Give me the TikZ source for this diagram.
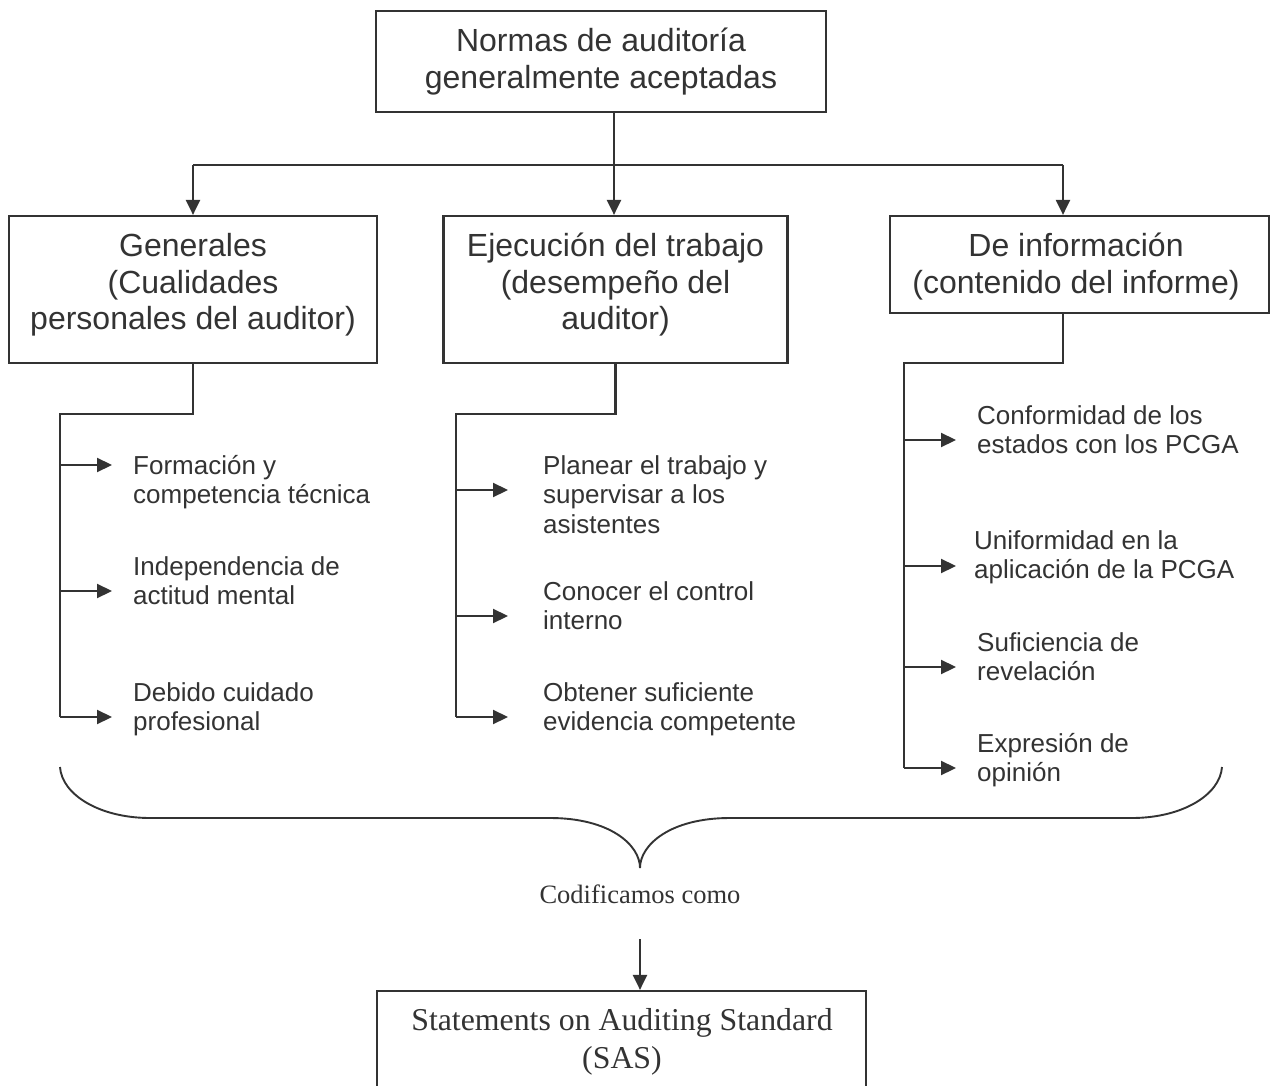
\documentclass[tikz,border=0pt]{standalone}
\usepackage{fontspec}
\setmainfont{Liberation Sans}
\newfontfamily\serifface{Liberation Serif}
\usetikzlibrary{arrows.meta}
\definecolor{ink}{RGB}{51,51,51}
% stacked lines with the baseline of the first line as reference
\newcommand\leftlines[1]{\begin{tabular}[t]{@{}l@{}}#1\end{tabular}}
\newcommand\midlines[1]{\begin{tabular}[t]{@{}c@{}}#1\end{tabular}}

\begin{document}
\begin{tikzpicture}[x=1pt,y=-1pt,
  frame/.style={draw=ink, line width=2.2pt, inner sep=0pt},
  boxtext/.style={inner sep=0pt, anchor=base, text=ink, font=\fontsize{32}{36.5}\selectfont},
  itemtext/.style={inner sep=0pt, anchor=base west, text=ink, font=\fontsize{26}{29.5}\selectfont},
  serifsmall/.style={inner sep=0pt, anchor=base, text=ink, font=\serifface\fontsize{26.5}{30}\selectfont},
  serifbig/.style={inner sep=0pt, anchor=base, text=ink, font=\serifface\fontsize{31.8}{38}\selectfont},
  link/.style={draw=ink, line width=2.2pt},
  arr/.style={link, -{Triangle[length=15pt,width=14pt]}},
]
\useasboundingbox (0,0) rectangle (1275,1086);
\fill[white] (0,0) rectangle (1275,1086);
\clip (0,0) rectangle (1275,1086);

% main boxes
\node[frame, minimum width=450pt, minimum height=101pt] (top) at (601,61.5) {};
\node[frame, minimum width=368pt, minimum height=147pt] (gen) at (193,289.5) {};
\node[frame, minimum width=344pt, minimum height=147pt] (ejec) at (615.5,289.5) {};
\node[frame, minimum width=379pt, minimum height=97pt] (info) at (1079.5,264.5) {};
\node[frame, minimum width=489pt, minimum height=140pt] (sas) at (621.5,1061) {};

% box labels
\node[boxtext] (toptext) at (601,52) {\midlines{Normas de auditoría\\generalmente aceptadas}};
\node[boxtext] (gentext) at (193,257) {\midlines{Generales\\(Cualidades\\personales del auditor)}};
\node[boxtext] (ejectext) at (615.5,257) {\midlines{Ejecución del trabajo\\(desempeño del\\auditor)}};
\node[boxtext] (infotext) at (1076,257) {\midlines{De información\\(contenido del informe)}};
\node[serifbig] (sastext) at (622,1030) {\midlines{Statements on Auditing Standard\\(SAS)}};

% split from the top box into the three groups
\coordinate (bar) at (614,165);
\coordinate (infoin) at (1063,165);
\draw[link] (top.south -| bar) -- (bar);
\draw[link] (bar -| gen.north) -- (infoin);
\draw[arr] (bar -| gen.north) -- (gen.north);
\draw[arr] (bar) -- (bar |- ejec.north);
\draw[arr] (infoin) -- (infoin |- info.north);

% group 1: general standards
\coordinate (g1) at (60,414);
\coordinate (g1end) at (60,717);
\draw[link] (gen.south) |- (g1) -- (g1end);
\coordinate (a11) at (112,465);
\coordinate (a12) at (112,591);
\coordinate (a13) at (112,717);
\foreach \a in {a11,a12,a13} \draw[arr] (\a -| g1) -- (\a);
\node[itemtext] (i11) at (133,474) {\leftlines{Formación y\\competencia técnica}};
\node[itemtext] (i12) at (133,575) {\leftlines{Independencia de\\actitud mental}};
\node[itemtext] (i13) at (133,701) {\leftlines{Debido cuidado\\profesional}};

% group 2: fieldwork standards
\coordinate (g2) at (456,414);
\coordinate (g2end) at (456,717);
\draw[link] (ejec.south) |- (g2) -- (g2end);
\coordinate (a21) at (508,490);
\coordinate (a22) at (508,616);
\coordinate (a23) at (508,717);
\foreach \a in {a21,a22,a23} \draw[arr] (\a -| g2) -- (\a);
\node[itemtext] (i21) at (543,474) {\leftlines{Planear el trabajo y\\supervisar a los\\asistentes}};
\node[itemtext] (i22) at (543,600) {\leftlines{Conocer el control\\interno}};
\node[itemtext] (i23) at (543,701) {\leftlines{Obtener suficiente\\evidencia competente}};

% group 3: reporting standards
\coordinate (g3) at (904,363);
\coordinate (g3end) at (904,768);
\draw[link] (infoin |- info.south) |- (g3) -- (g3end);
\coordinate (a31) at (956,440);
\coordinate (a32) at (956,566);
\coordinate (a33) at (956,667);
\coordinate (a34) at (956,768);
\foreach \a in {a31,a32,a33,a34} \draw[arr] (\a -| g3) -- (\a);
\node[itemtext] (i31) at (977,424) {\leftlines{Conformidad de los\\estados con los PCGA}};
\node[itemtext] (i32) at (974,549) {\leftlines{Uniformidad en la\\aplicación de la PCGA}};
\node[itemtext] (i33) at (977,651) {\leftlines{Suficiencia de\\revelación}};
\node[itemtext] (i34) at (977,752) {\leftlines{Expresión de\\opinión}};

% brace gathering the three groups
\coordinate (braceL) at (60,767);
\coordinate (braceR) at (1222,767);
\coordinate (braceTip) at (640,868);
\draw[link, line width=1.9pt] (braceL) .. controls (62,795) and (100,818) .. (150,818) -- (550,818)
  .. controls (610,818) and (640,845) .. (braceTip)
  .. controls (640,845) and (670,818) .. (730,818) -- (1132,818)
  .. controls (1182,818) and (1220,795) .. (braceR);

% codification
\node[serifsmall] (cod) at (640,903) {Codificamos como};
\coordinate (codout) at (640,939);
\draw[arr] (codout) -- (codout |- sas.north);
\end{tikzpicture}
\end{document}
